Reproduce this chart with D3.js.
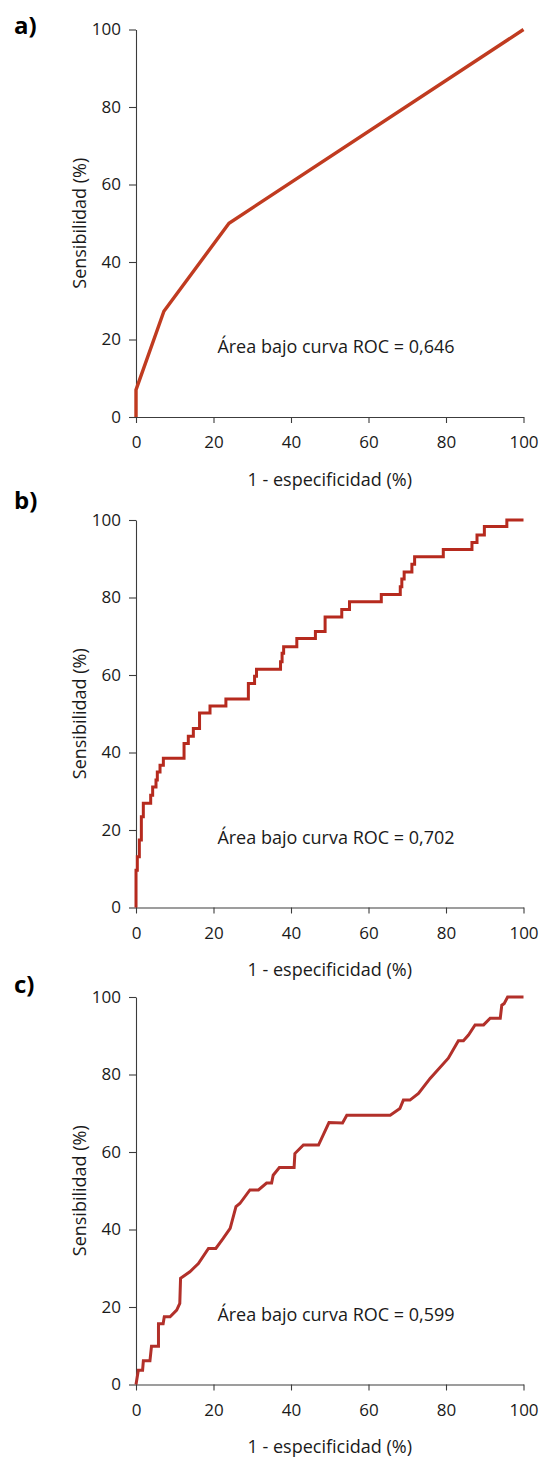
<!DOCTYPE html>
<html>
<head>
<meta charset="utf-8">
<script src="https://cdn.jsdelivr.net/npm/d3@7/dist/d3.min.js"></script>
<style>
  html, body { margin: 0; padding: 0; background: #fff; }
  svg text { font-family: "Open Sans", "Noto Sans", sans-serif; fill: #1a1a1a; }
</style>
</head>
<body>
<svg id="chart" width="539" height="1459"></svg>
<script>
// ROC curves: false positive rate (1 - especificidad, %) vs sensibilidad (%)
const panelLabels = ["a)", "b)", "c)"];
const aucLabels = ["0,646", "0,702", "0,599"];
const tickValues = [0, 20, 40, 60, 80, 100];

// a) single cut-point curve
const rocA_fpr = [0, 0, 7.2, 24, 100];
const rocA_tpr = [0, 7, 27.3, 50, 100];

// b) empirical step curve (each point starts a horizontal level)
const rocB_fpr = [0, 0, 0.34, 0.86, 1.38, 1.89, 3.79, 4.3, 5.16, 5.5, 6.2, 7.06,
  12.4, 13.5, 14.8, 16.4, 19.1, 23.2, 29.0, 30.6, 31.1, 37.3, 37.7, 38.1, 41.5,
  46.3, 48.8, 53.1, 55.1, 63.3, 68.2, 68.6, 69.2, 71.2, 71.9, 79.3, 86.7, 88.0,
  89.9, 95.7, 100];
const rocB_tpr = [0, 9.6, 13.1, 17.4, 23.4, 26.9, 29.0, 31.1, 32.9, 35.0, 36.7, 38.5,
  42.3, 44.2, 46.2, 50.2, 52.0, 53.8, 57.8, 59.7, 61.5, 63.4, 65.6, 67.3, 69.4,
  71.2, 75.0, 76.9, 78.9, 80.8, 82.8, 84.8, 86.6, 88.6, 90.5, 92.4, 94.2, 96.1,
  98.3, 100, 100];

// c) curve
const rocC_fpr = [0, 0.6, 1.7, 1.9, 3.6, 4.0, 5.8, 5.8, 7.0, 7.3, 8.8, 10.5, 11.3,
  11.5, 13.9, 16.1, 18.7, 20.6, 22.5, 24.3, 25.8, 26.8, 29.4, 31.6, 33.7, 35.0,
  35.4, 37.0, 40.8, 41.0, 43.2, 47.1, 49.8, 53.3, 54.4, 65.6, 68.1, 69.0, 70.7,
  72.9, 75.9, 80.6, 83.2, 84.5, 85.8, 87.5, 89.7, 91.4, 94.0, 94.4, 95.0, 95.9, 100];
const rocC_tpr = [0, 3.7, 3.7, 6.1, 6.1, 9.9, 9.9, 15.7, 15.7, 17.5, 17.5, 19.2, 20.9,
  27.4, 29.1, 31.2, 35.1, 35.1, 37.7, 40.3, 45.9, 46.7, 50.2, 50.2, 52.0, 52.0,
  54.0, 56.0, 56.0, 59.6, 61.8, 61.8, 67.6, 67.5, 69.5, 69.5, 71.2, 73.4, 73.4,
  75.1, 79.0, 84.2, 88.7, 88.7, 90.2, 92.8, 92.8, 94.5, 94.5, 97.9, 98.3, 100, 100];

const panels = [
  { fpr: rocA_fpr, tpr: rocA_tpr, curve: d3.curveLinear, color: "#c03b20", width: 3.4, top: 29.5, labelY: 33.5 },
  { fpr: rocB_fpr, tpr: rocB_tpr, curve: d3.curveStepAfter, color: "#b62a1e", width: 3, top: 520, labelY: 508.5 },
  { fpr: rocC_fpr, tpr: rocC_tpr, curve: d3.curveLinear, color: "#b2302a", width: 3, top: 997, labelY: 992.5 }
];

const svg = d3.select("#chart");
const left = 136, plotW = 387.5, plotH = 387.5;
const tickFont = "17px";
const textFont = "18px";

panels.forEach((p, i) => {
  const g = svg.append("g").attr("transform", `translate(${left},${p.top})`);
  const x = d3.scaleLinear().domain([0, 100]).range([0, plotW]);
  const y = d3.scaleLinear().domain([0, 100]).range([plotH, 0]);

  const yAxis = g.append("g")
    .call(d3.axisLeft(y).tickValues(tickValues).tickSize(7).tickPadding(8).tickSizeOuter(0));
  const xAxis = g.append("g").attr("transform", `translate(0,${plotH})`)
    .call(d3.axisBottom(x).tickValues(tickValues).tickSize(6).tickPadding(13).tickSizeOuter(0));
  [yAxis, xAxis].forEach(a => {
    a.selectAll("path, line").attr("stroke", "#3c3c3c").attr("stroke-width", 1.1);
    a.selectAll("text").style("font-size", tickFont).style("fill", "#1a1a1a")
      .style("font-family", "\"Open Sans\", sans-serif");
  });

  const pts = p.fpr.map((v, k) => [v, p.tpr[k]]);
  g.append("path")
    .datum(pts)
    .attr("fill", "none")
    .attr("stroke", p.color)
    .attr("stroke-width", p.width)
    .attr("stroke-linejoin", "miter")
    .attr("d", d3.line().x(d => x(d[0])).y(d => y(d[1])).curve(p.curve));

  g.append("text")
    .attr("x", x(21)).attr("y", y(16.5))
    .style("font-size", textFont)
    .text(`Área bajo curva ROC = ${aucLabels[i]}`);

  g.append("text")
    .attr("x", plotW / 2).attr("y", plotH + 68.5)
    .attr("text-anchor", "middle")
    .style("font-size", textFont)
    .text("1 - especificidad (%)");

  g.append("text")
    .attr("transform", `translate(${-50},${plotH / 2}) rotate(-90)`)
    .attr("text-anchor", "middle")
    .style("font-size", textFont)
    .text("Sensibilidad (%)");

  svg.append("text")
    .attr("x", 14).attr("y", p.labelY)
    .style("font-size", "24px")
    .style("font-weight", "bold")
    .style("fill", "#000")
    .text(panelLabels[i]);
});
</script>
</body>
</html>
